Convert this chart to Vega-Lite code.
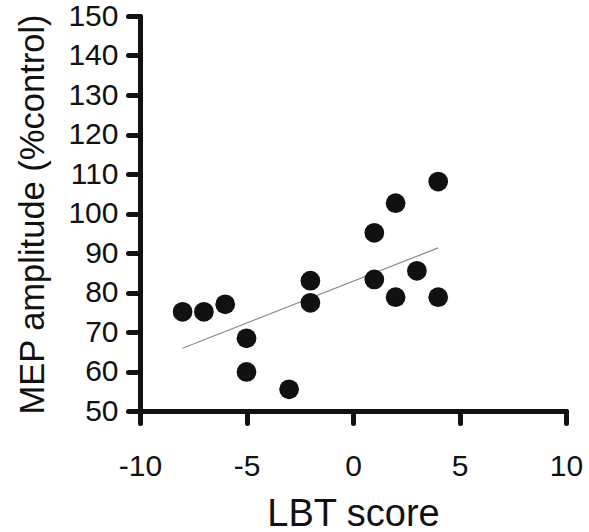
{
  "$schema": "https://vega.github.io/schema/vega-lite/v6.json",
  "autosize": "none",
  "width": 426,
  "height": 395,
  "padding": {"left": 140, "top": 16, "right": 23, "bottom": 121},
  "background": "white",
  "config": {
    "view": {"stroke": null},
    "font": "Liberation Sans",
    "axis": {
      "grid": false,
      "domainColor": "#111",
      "domainWidth": 5,
      "domainCap": "round",
      "tickColor": "#111",
      "tickWidth": 5,
      "tickSize": 12,
      "tickCap": "round",
      "labelColor": "#111",
      "labelFontSize": 30,
      "labelFont": "Liberation Sans",
      "labelOverlap": false,
      "titleFont": "Liberation Sans",
      "titleFontSize": 34,
      "titleFontWeight": "normal",
      "titleColor": "#111"
    }
  },
  "datasets": {
    "points": [
      {"lbt": -8, "mep": 75.1},
      {"lbt": -7, "mep": 75.1},
      {"lbt": -6, "mep": 77.0},
      {"lbt": -5, "mep": 68.4},
      {"lbt": -5, "mep": 59.9},
      {"lbt": -3, "mep": 55.5},
      {"lbt": -2, "mep": 83.0},
      {"lbt": -2, "mep": 77.4},
      {"lbt": 1, "mep": 95.1},
      {"lbt": 1, "mep": 83.3},
      {"lbt": 2, "mep": 102.6},
      {"lbt": 2, "mep": 78.8},
      {"lbt": 3, "mep": 85.5},
      {"lbt": 4, "mep": 108.1},
      {"lbt": 4, "mep": 78.8}
    ],
    "fit": [
      {"lbt": -8, "mep": 65.9},
      {"lbt": 4, "mep": 91.3}
    ]
  },
  "encoding": {
    "x": {
      "field": "lbt",
      "type": "quantitative",
      "scale": {"domain": [-10, 10], "nice": false, "zero": false},
      "axis": {
        "title": "LBT score",
        "values": [-10, -5, 0, 5, 10],
        "labelExpr": "datum.value < 0 ? '-' + abs(datum.value) : '' + datum.value",
        "labelPadding": 28,
        "labelFlush": false,
        "labelOverlap": false,
        "titleFontSize": 38,
        "titleBaseline": "alphabetic",
        "titleY": 114
      }
    },
    "y": {
      "field": "mep",
      "type": "quantitative",
      "scale": {"domain": [50, 150], "nice": false, "zero": false},
      "axis": {
        "title": "MEP amplitude (%control)",
        "values": [50, 60, 70, 80, 90, 100, 110, 120, 130, 140, 150],
        "tickCount": 11,
        "labelPadding": 10,
        "labelFlush": false,
        "labelOverlap": false,
        "titleFontSize": 34.5,
        "titleBaseline": "alphabetic",
        "titleX": -97,
        "titleY": 198
      }
    }
  },
  "layer": [
    {
      "data": {"name": "fit"},
      "mark": {"type": "line", "color": "#8a8a8a", "strokeWidth": 1.2}
    },
    {
      "data": {"name": "points"},
      "mark": {"type": "circle", "color": "#111", "opacity": 1, "size": 390}
    }
  ]
}
